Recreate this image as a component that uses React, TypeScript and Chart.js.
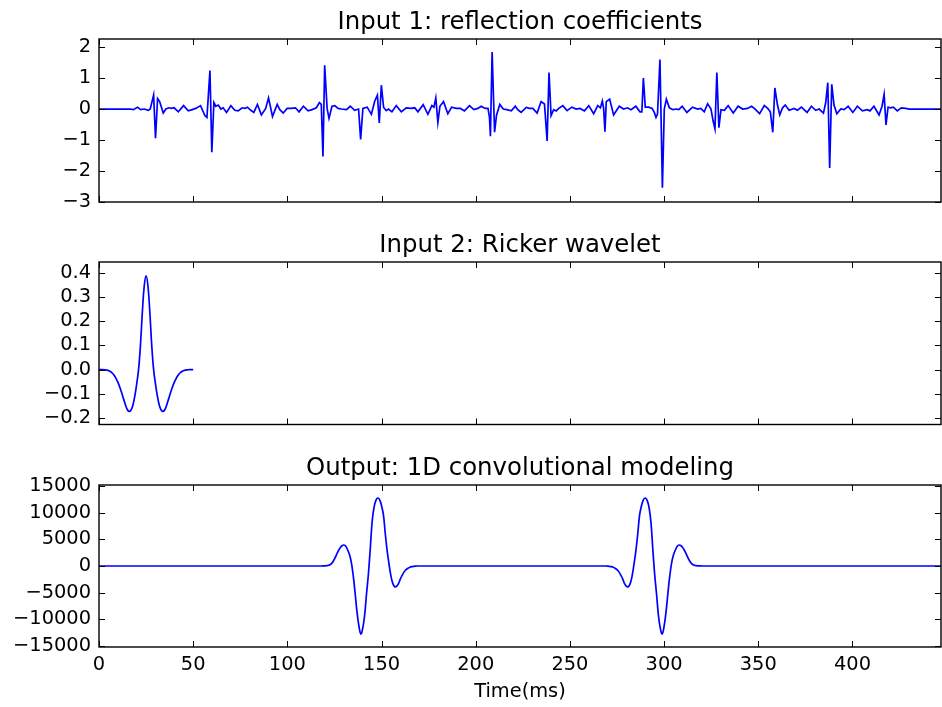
import React, { useEffect, useRef } from "react";
import { Chart, registerables } from "chart.js";

Chart.register(...registerables);

const FONT = '"DejaVu Sans", "Liberation Sans", sans-serif';
Chart.defaults.font.family = FONT;

// ---------- Data ----------
const xTicks = [0, 50, 100, 150, 200, 250, 300, 350, 400];
const reflTicks = [-3, -2, -1, 0, 1, 2];
const rickerTicks = [-0.2, -0.1, 0.0, 0.1, 0.2, 0.3, 0.4];
const outTicks = [-15000, -10000, -5000, 0, 5000, 10000, 15000];

const reflTime = [
  0, 16.4, 18.2, 20.5, 22.1, 24.0, 26.2, 27.2, 29.0, 30.0, 31.1, 32.2, 34.1, 35.5, 37.1, 38.5, 39.9,
  42.1, 44.9, 47.4, 49.5, 51.4, 53.9, 56.2, 57.3, 58.9, 59.9, 61.0, 62.0, 63.3, 64.7, 65.9, 67.7,
  70.0, 72.1, 73.9, 76.0, 77.5, 78.8, 80.6, 82.2, 84.1, 86.2, 88.5, 90.0, 92.1, 94.6, 96.0, 97.8,
  99.9, 102.2, 104.3, 106.2, 108.5, 111.0, 113.1, 115.4, 117.0, 118.0, 118.9, 119.8, 121.1, 122.1,
  123.7, 125.2, 126.9, 128.7, 131.4, 133.4, 135.7, 137.8, 138.9, 140.1, 142.4, 144.6, 146.4, 147.8,
  148.8, 149.9, 151.1, 152.5, 153.7, 155.5, 157.8, 160.5, 163.1, 165.8, 167.6, 169.3, 172.1, 174.6,
  176.7, 177.8, 178.8, 179.9, 181.0, 182.9, 185.2, 187.2, 189.6, 191.9, 194.0, 196.7, 199.0, 201.1,
  202.9, 205.0, 206.5, 207.3, 207.8, 208.7, 210.0, 211.0, 212.8, 214.6, 216.5, 218.9, 221.0, 222.3,
  224.1, 226.8, 228.5, 230.3, 232.6, 234.7, 236.5, 237.9, 238.9, 240.0, 241.4, 242.7, 244.1, 246.2,
  248.5, 251.0, 253.3, 255.4, 257.7, 260.0, 262.6, 264.8, 266.2, 267.2, 267.9, 268.6, 269.3, 271.1,
  273.2, 276.2, 278.5, 280.6, 282.4, 285.0, 287.2, 288.2, 289.0, 290.0, 291.8, 293.6, 294.8, 295.7,
  296.5, 297.8, 299.1, 300.1, 301.2, 302.8, 304.6, 306.4, 307.8, 309.6, 312.1, 315.1, 317.8, 319.5,
  321.3, 323.1, 324.9, 326.0, 327.0, 328.0, 329.1, 330.2, 332.0, 334.0, 336.7, 339.3, 341.7, 344.3,
  346.4, 347.9, 350.7, 353.2, 355.0, 356.4, 357.7, 358.8, 360.2, 361.4, 362.9, 364.3, 366.4, 369.0,
  370.8, 372.9, 375.9, 378.2, 380.5, 382.3, 384.6, 385.8, 386.9, 387.9, 389.0, 390.2, 391.7, 393.8,
  395.6, 397.7, 400.2, 402.6, 405.3, 407.9, 409.3, 411.4, 414.1, 415.7, 416.8, 417.8, 418.9, 420.3,
  421.7, 423.8, 425.9, 428.3, 430.0, 447,
];
const reflValue = [
  0, 0, -0.02, 0.06, -0.02, 0, -0.04, 0, 0.45, -0.94, 0.34, 0.24, -0.13, 0, 0.04, 0.02, 0.04,
  -0.09, 0.11, -0.06, -0.02, 0.02, 0.11, -0.21, -0.27, 1.24, -1.39, 0.21, 0.09, 0.13, 0, 0.04, -0.11,
  0.11, -0.04, -0.06, 0.04, 0.02, 0.06, -0.04, -0.11, 0.15, -0.19, 0.02, 0.36, -0.24, 0.15, -0.02, -0.13,
  0.02, 0.02, 0.04, -0.09, 0.09, -0.06, -0.02, 0.04, 0.21, 0.15, -1.53, 1.41, 0.02, -0.30,
  0.09, 0.11, 0.02, 0, -0.02, 0.09, -0.04, 0, -0.98, 0.02, 0.06, -0.17, 0.26, 0.45,
  -0.45, 0.77, 0.05, -0.05, 0, -0.09, 0.11, -0.09, 0.04, 0.02, 0.04, -0.09, 0.14, -0.17,
  0.11, 0.06, 0.36, -0.43, 0.09, 0.24, -0.15, 0.06, 0.02, 0.02, -0.06, 0.11, -0.02, 0.02,
  0.09, 0.02, 0.02, -0.27, -0.88, 1.84, -0.75, -0.21, 0.15, 0, -0.02, -0.06, 0.09, -0.02,
  -0.11, 0.05, 0.02, 0.02, -0.13, 0.24, 0.16, -1.03, 1.18, -0.21, -0.02, -0.06, 0.02, 0.11,
  -0.05, 0.06, 0, 0.02, -0.06, 0.11, -0.15, 0.11, 0.04, 0.26, 0.02, -0.73, 0.24, 0.32,
  -0.19, 0.09, 0, 0.04, -0.02, 0.09, -0.09, -0.09, 1.0, 0.06, 0.06, 0.02, -0.11, -0.27,
  -0.16, 1.60, -2.54, 0, 0.32, 0.04, -0.02, 0, -0.02, 0.09, -0.11, 0.06, 0, 0.02,
  -0.09, 0.17, 0, -0.38, -0.64, 1.18, -0.60, -0.02, -0.04, 0.11, -0.13, 0.09, 0, 0.02,
  0.09, 0.02, -0.15, 0.11, 0.02, -0.09, -0.75, 0.68, 0.13, -0.19, 0.04, 0.13, -0.04, 0.02,
  -0.04, 0.06, -0.11, 0.09, -0.04, 0, -0.13, 0.21, 0.85, -1.90, 0.80, 0.13, -0.15, 0,
  -0.02, 0.09, -0.11, 0.09, -0.06, -0.02, -0.06, 0.09, -0.19, 0.09, 0.47, -0.51, 0.06, 0.04,
  0.06, -0.06, 0.04, 0.02, 0, 0,
];

const rickerTime = [
  0, 1, 2, 3, 4, 5, 6, 7, 8, 9, 10, 11, 12, 13, 14, 15, 16, 17, 18, 19, 20, 21, 22, 23, 24, 25,
  26, 27, 28, 29, 30, 31, 32, 33, 34, 35, 36, 37, 38, 39, 40, 41, 42, 43, 44, 45, 46, 47, 48, 49, 50,
];
const rickerValue = [
  0, 0, 0, -0.001, -0.002, -0.004, -0.008, -0.014, -0.023, -0.036, -0.052, -0.072, -0.095, -0.12,
  -0.145, -0.165, -0.173, -0.167, -0.147, -0.11, -0.06, 0.0, 0.1, 0.235, 0.345, 0.388,
  0.345, 0.235, 0.1, 0.0, -0.06, -0.11, -0.147, -0.167, -0.173, -0.165, -0.145, -0.12, -0.095,
  -0.072, -0.052, -0.036, -0.023, -0.014, -0.008, -0.004, -0.002, -0.001, 0, 0, 0,
];

const outTime = [
  0, 118, 119, 120, 121, 122, 123, 124, 125, 126, 127, 128, 129, 130, 131, 132, 133, 134, 135, 136,
  137, 138, 139, 140, 141, 142, 143, 144, 145, 146, 147, 148, 149, 150, 151, 152, 153, 154, 155, 156,
  157, 158, 159, 160, 161, 162, 163, 164, 165, 166, 167, 168, 169, 170,
  268, 269, 270, 271, 272, 273, 274, 275, 276, 277, 278, 279, 280, 281, 282, 283, 284, 285, 286, 287,
  288, 289, 290, 291, 292, 293, 294, 295, 296, 297, 298, 299, 300, 301, 302, 303, 304, 305, 306, 307,
  308, 309, 310, 311, 312, 313, 314, 315, 316, 317, 318, 319, 320, 447,
];
const outValue = [
  0, 0, 10, 20, 60, 150, 330, 700, 1300, 2060, 2800, 3400, 3800, 3940, 3700, 3000, 2100, 600, -1900, -5200,
  -8700, -11300, -12750, -11700, -9300, -5300, -1600, 3200, 8300, 11000, 12300, 12750, 12400, 11300, 9600, 6000, 2800, 300, -1900, -3300,
  -3880, -3800, -3300, -2400, -1700, -1100, -700, -420, -250, -130, -60, -20, 0, 0,
  0, 0, -20, -60, -130, -250, -420, -700, -1100, -1700, -2400, -3300, -3800, -3880, -3300, -1900, 300, 2800, 6000, 9600,
  11300, 12400, 12750, 12300, 11000, 8300, 3200, -1600, -5300, -9300, -11700, -12750, -11300, -8700, -5200, -1900, 600, 2100, 3000, 3700,
  3940, 3800, 3400, 2800, 2060, 1300, 700, 330, 150, 60, 20, 10, 0, 0,
];

// ---------- Helpers ----------
const minus = (s: string) => s.replace("-", "\u2212");

const framePlugin = {
  id: "frame",
  afterDatasetsDraw(chart: any, _args: any, opts: any) {
    const { ctx, chartArea: a, scales } = chart;
    const x = scales.x;
    const y = scales.y;
    const L = 6;
    ctx.save();
    ctx.strokeStyle = "#000";
    ctx.lineWidth = 1;
    ctx.beginPath();
    for (const t of x.ticks) {
      const px = Math.round(x.getPixelForValue(t.value)) + 0.5;
      ctx.moveTo(px, a.bottom);
      ctx.lineTo(px, a.bottom - L);
      ctx.moveTo(px, a.top);
      ctx.lineTo(px, a.top + L);
    }
    for (const t of y.ticks) {
      const py = Math.round(y.getPixelForValue(t.value)) + 0.5;
      ctx.moveTo(a.left, py);
      ctx.lineTo(a.left + L, py);
      ctx.moveTo(a.right, py);
      ctx.lineTo(a.right - L, py);
    }
    ctx.stroke();
    ctx.lineWidth = 1.4;
    ctx.strokeRect(a.left, a.top, a.right - a.left, a.bottom - a.top);
    ctx.fillStyle = "#000";
    ctx.font = `24.4px ${FONT}`;
    ctx.textAlign = "center";
    ctx.textBaseline = "alphabetic";
    ctx.fillText(opts.text, (a.left + a.right) / 2, a.top - 10);
    ctx.restore();
  },
};

type Spec = {
  top: number;
  height: number;
  padTop: number;
  xHeight: number;
  xs: number[];
  ys: number[];
  yMin: number;
  yMax: number;
  yTicks: number[];
  yFmt: (v: number) => string;
  title: string;
  showX: boolean;
  smooth: boolean;
};

function buildConfig(s: Spec): any {
  return {
    type: "line",
    data: {
      datasets: [
        {
          data: s.xs.map((x, i) => ({ x, y: s.ys[i] })),
          borderColor: "#0000ff",
          borderWidth: 1.7,
          pointRadius: 0,
          fill: false,
          tension: s.smooth ? 0.4 : 0,
          cubicInterpolationMode: "default",
        },
      ],
    },
    options: {
      animation: false,
      responsive: false,
      maintainAspectRatio: false,
      devicePixelRatio: 1,
      events: [],
      layout: { padding: { top: s.padTop, right: 1, bottom: 0, left: 0 } },
      plugins: {
        legend: { display: false },
        tooltip: { enabled: false },
        title: { display: false },
        frame: { text: s.title },
      },
      scales: {
        x: {
          type: "linear",
          min: 0,
          max: 447,
          grid: { display: false, drawTicks: false },
          border: { display: false },
          ticks: {
            display: s.showX,
            padding: 6,
            color: "#000",
            font: { family: FONT, size: 19.4 },
            maxRotation: 0,
            callback: (v: number) => minus(String(v)),
          },
          afterBuildTicks: (sc: any) => {
            sc.ticks = xTicks.map((v) => ({ value: v }));
          },
          afterFit: (sc: any) => {
            sc.height = s.xHeight;
          },
          title: s.showX
            ? {
                display: true,
                text: "Time(ms)",
                color: "#000",
                font: { family: FONT, size: 19.4 },
                padding: { top: 0, bottom: 3 },
              }
            : { display: false },
        },
        y: {
          type: "linear",
          min: s.yMin,
          max: s.yMax,
          grid: { display: false, drawTicks: false },
          border: { display: false },
          ticks: {
            padding: 8,
            color: "#000",
            font: { family: FONT, size: 19.4 },
            callback: (v: number) => s.yFmt(v),
          },
          afterBuildTicks: (sc: any) => {
            sc.ticks = s.yTicks.map((v) => ({ value: v }));
          },
          afterFit: (sc: any) => {
            sc.width = 99;
          },
        },
      },
    },
    plugins: [framePlugin],
  };
}

function Panel({ spec }: { spec: Spec }) {
  const ref = useRef<HTMLCanvasElement | null>(null);
  useEffect(() => {
    const chart = new Chart(ref.current as HTMLCanvasElement, buildConfig(spec));
    return () => chart.destroy();
  }, []);
  return (
    <canvas
      ref={ref}
      width={942}
      height={spec.height}
      style={{ position: "absolute", left: 0, top: spec.top, width: 942, height: spec.height }}
    />
  );
}

const panels: Spec[] = [
  {
    top: 0,
    height: 230,
    padTop: 39,
    xHeight: 28,
    xs: reflTime,
    ys: reflValue,
    yMin: -3,
    yMax: 2.26,
    yTicks: reflTicks,
    yFmt: (v) => minus(String(v)),
    title: "Input 1: reflection coefficients",
    showX: false,
    smooth: false,
  },
  {
    top: 230,
    height: 222,
    padTop: 32,
    xHeight: 27.5,
    xs: rickerTime,
    ys: rickerValue,
    yMin: -0.227,
    yMax: 0.445,
    yTicks: rickerTicks,
    yFmt: (v) => minus(v.toFixed(1)),
    title: "Input 2: Ricker wavelet",
    showX: false,
    smooth: true,
  },
  {
    top: 452,
    height: 255,
    padTop: 33,
    xHeight: 60,
    xs: outTime,
    ys: outValue,
    yMin: -15190,
    yMax: 15190,
    yTicks: outTicks,
    yFmt: (v) => minus(String(v)),
    title: "Output: 1D convolutional modeling",
    showX: true,
    smooth: true,
  },
];

export default function App() {
  return (
    <div style={{ position: "absolute", left: 0, top: 0, width: 942, height: 707, background: "#fff" }}>
      {panels.map((p, i) => (
        <Panel key={i} spec={p} />
      ))}
    </div>
  );
}
